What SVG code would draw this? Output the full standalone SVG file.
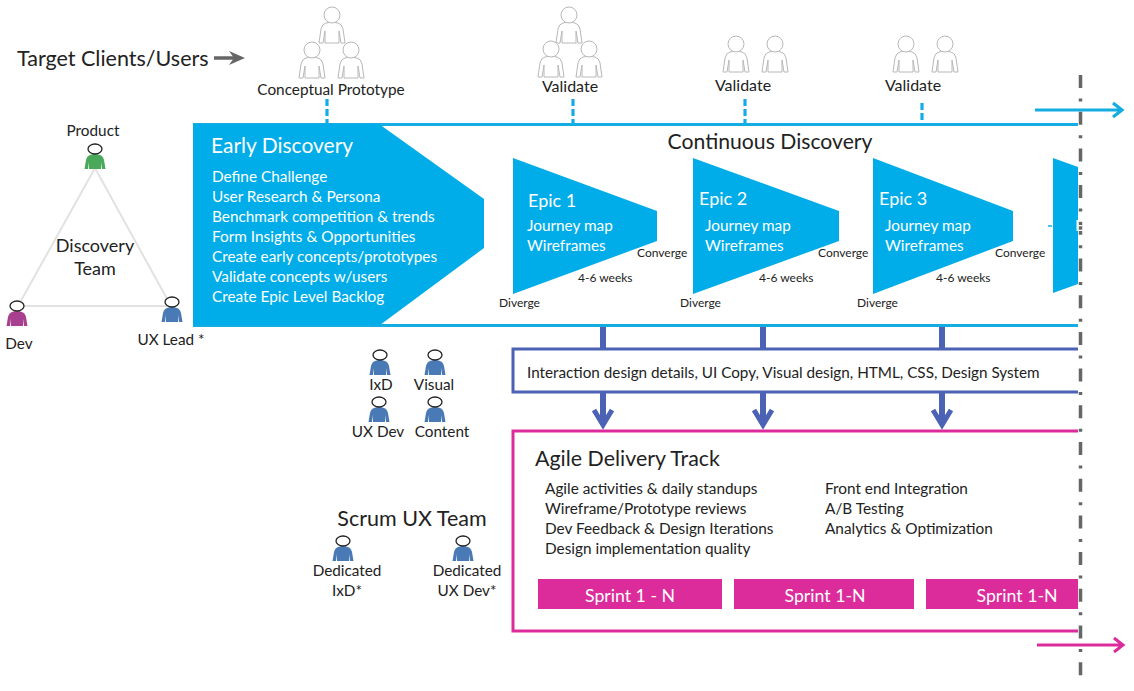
<svg xmlns="http://www.w3.org/2000/svg" width="1134" height="691" viewBox="0 0 1134 691">
<style>
text{font-family:"Lato","Carlito","Open Sans",sans-serif;fill:#222}
.m{text-anchor:middle}
text.w{fill:#fff}
.s14{font-size:15.3px}
.s15{font-size:15.35px}
.s12{font-size:12px}
.cy{fill:#00ade8}
.blue{fill:#4a7ab5}
.green{fill:#4aa85a}
.purple{fill:#a8408f}
.ln-c{stroke:#14ade3;fill:none}
.ln-b{stroke:#4b62b5;fill:none}
.ln-p{stroke:#dc2c9b;fill:none}
</style>
<defs>
<g id="p">
<path d="M-5,6 Q0,4 5,6 Q8,7 9,11 L10.5,20 L7,20 L6,13 L6,20 L-6,20 L-6,13 L-7,20 L-10.5,20 L-9,11 Q-8,7 -5,6Z"/>
<ellipse cx="0" cy="0" rx="7" ry="5" fill="#fff" stroke="#222" stroke-width="1.3"/>
</g>
<g id="g" fill="#fff" stroke="#b8b8b8" stroke-width="1">
<path d="M-6,8 Q0,6 6,8 Q10,9 11,14 L13,28 L9,28 L7,16 L7,28 L-7,28 L-7,16 L-9,28 L-13,28 L-11,14 Q-10,9 -6,8Z"/>
<ellipse cx="0" cy="0" rx="8" ry="8"/>
</g>
</defs>

<g id="connectors">
<path d="M214,58H238" stroke="#666" stroke-width="3.5" fill="none"/>
<path d="M229,51L245,58L229,65L234,58Z" fill="#666"/>
<g class="ln-c" stroke-width="3.2">
<path d="M193,124.5H1078M193,325.5H1078"/>
<path d="M327,99V124M573,99V124M745,99V124M922,103V124" stroke-dasharray="7 3"/>
<path d="M1035,110H1120M1113,103L1122,110L1113,117"/>
</g>
<path d="M1048,226H1052" stroke="#14ade3" stroke-width="1.5"/>
<path d="M95,168L18,306H171Z" stroke="#e2e2e2" stroke-width="2" fill="none"/>
<g class="ln-b">
<path d="M1078,349H513V392H1078" stroke-width="3"/>
<path d="M603,327V349M763,327V349M942,327V349" stroke-width="6"/>
<path d="M603,392V424M763,392V424M942,392V424" stroke-width="6"/>
<path d="M594,410L603,425L612,410M754,410L763,425L772,410M933,410L942,425L951,410" stroke-width="5"/>
</g>
<g class="ln-p" stroke-width="3">
<path d="M1078,431H513V631H1078"/>
<path d="M1037,645H1122M1114,638L1123,645L1114,652"/>
</g>
<path d="M1080.5,75V680" stroke="#666" stroke-width="3.5" stroke-dasharray="13 10.5 3 10.2" fill="none"/>
</g>

<g id="target-label"><text x="17" y="66" font-size="21.5">Target Clients/Users</text></g>

<g id="users-concept">
<use href="#g" x="332" y="15"/><use href="#g" x="312" y="50"/><use href="#g" x="351" y="50"/>
<text class="m s15" x="331" y="95">Conceptual Prototype</text>
</g>
<g id="users-validate-1">
<use href="#g" x="569" y="15"/><use href="#g" x="551" y="49"/><use href="#g" x="589" y="49"/>
<text class="m" font-size="16" x="570" y="92">Validate</text>
</g>
<g id="users-validate-2">
<use href="#g" x="736" y="44"/><use href="#g" x="775" y="44"/>
<text class="m" font-size="16" x="743" y="91">Validate</text>
</g>
<g id="users-validate-3">
<use href="#g" x="906" y="44"/><use href="#g" x="945" y="44"/>
<text class="m" font-size="16" x="913" y="91">Validate</text>
</g>

<g id="discovery-team">
<use href="#p" x="95" y="149" class="green"/>
<use href="#p" x="17" y="306" class="purple"/>
<use href="#p" x="172" y="302" class="blue"/>
<text class="m s14" x="93" y="136">Product</text>
<text class="m" x="95" y="252" font-size="18">Discovery</text>
<text class="m" x="95" y="275" font-size="18">Team</text>
<text class="m s14" x="19" y="349">Dev</text>
<text class="m s14" x="171" y="345">UX Lead *</text>
</g>

<g id="early-discovery">
<path class="cy" d="M193,124H379L484,199V248L380,325H193Z"/>
<text class="w" x="211" y="153" font-size="21">Early Discovery</text>
<text class="w s15" x="212" y="182">Define Challenge</text>
<text class="w s15" x="212" y="202">User Research &amp; Persona</text>
<text class="w s15" x="212" y="222">Benchmark competition &amp; trends</text>
<text class="w s15" x="212" y="242">Form Insights &amp; Opportunities</text>
<text class="w s15" x="212" y="262">Create early concepts/prototypes</text>
<text class="w s15" x="212" y="282">Validate concepts w/users</text>
<text class="w s15" x="212" y="302">Create Epic Level Backlog</text>
</g>

<g id="continuous-label"><text class="m" x="770" y="149" font-size="21.2">Continuous Discovery</text></g>

<g id="epic-1">
<path class="cy" d="M513,158L657,211V241L513,294Z"/>
<text class="w" x="528" y="207" font-size="18">Epic 1</text>
<text class="w s15" x="527" y="231">Journey map</text>
<text class="w s15" x="527" y="251">Wireframes</text>
<text class="s12" x="637" y="257">Converge</text>
<text class="s12" x="578" y="282">4-6 weeks</text>
<text class="s12" x="499" y="307">Diverge</text>
</g>
<g id="epic-2">
<path class="cy" d="M693,158L839,211V241L693,294Z"/>
<text class="w" x="699" y="205" font-size="18">Epic 2</text>
<text class="w s15" x="705" y="231">Journey map</text>
<text class="w s15" x="705" y="251">Wireframes</text>
<text class="s12" x="818" y="257">Converge</text>
<text class="s12" x="759" y="282">4-6 weeks</text>
<text class="s12" x="680" y="307">Diverge</text>
</g>
<g id="epic-3">
<path class="cy" d="M873,158L1013,211V241L873,294Z"/>
<text class="w" x="879" y="205" font-size="18">Epic 3</text>
<text class="w s15" x="885" y="231">Journey map</text>
<text class="w s15" x="885" y="251">Wireframes</text>
<text class="s12" x="995" y="257">Converge</text>
<text class="s12" x="936" y="282">4-6 weeks</text>
<text class="s12" x="857" y="307">Diverge</text>
</g>
<g id="epic-4">
<path class="cy" d="M1053,158L1078,167V284L1053,293Z"/>
<text class="w s15" x="1075" y="231">E</text>
</g>

<g id="ux-team">
<use href="#p" x="380" y="355" class="blue"/>
<use href="#p" x="435" y="355" class="blue"/>
<use href="#p" x="379" y="402" class="blue"/>
<use href="#p" x="435" y="402" class="blue"/>
<text class="m s14" x="381" y="390">IxD</text>
<text class="m s14" x="434" y="390">Visual</text>
<text class="m s14" x="378" y="437">UX Dev</text>
<text class="m s14" x="442" y="437">Content</text>
</g>

<g id="design-details"><text font-size="15.25" x="527" y="378">Interaction design details, UI Copy, Visual design, HTML, CSS, Design System</text></g>

<g id="scrum-team">
<text class="m" x="412" y="526" font-size="21.5">Scrum UX Team</text>
<use href="#p" x="343" y="541" class="blue"/>
<use href="#p" x="463" y="541" class="blue"/>
<text class="m s14" x="347" y="576">Dedicated</text>
<text class="m s14" x="347" y="596">IxD*</text>
<text class="m s14" x="467" y="576">Dedicated</text>
<text class="m s14" x="467" y="596">UX Dev*</text>
</g>

<g id="agile-track">
<text x="535" y="466" font-size="21.4">Agile Delivery Track</text>
<text class="s15" x="545" y="494">Agile activities &amp; daily standups</text>
<text class="s15" x="545" y="514">Wireframe/Prototype reviews</text>
<text class="s15" x="545" y="534">Dev Feedback &amp; Design Iterations</text>
<text class="s15" x="545" y="554">Design implementation quality</text>
<text class="s15" x="825" y="494">Front end Integration</text>
<text class="s15" x="825" y="514">A/B Testing</text>
<text class="s15" x="825" y="534">Analytics &amp; Optimization</text>
</g>
<g id="sprint-1"><rect x="538" y="579" width="184" height="30" fill="#dc2c9b"/><text class="m w" x="630" y="602" font-size="17.7">Sprint 1 - N</text></g>
<g id="sprint-2"><rect x="734" y="579" width="180" height="30" fill="#dc2c9b"/><text class="m w" x="825" y="602" font-size="17.7">Sprint 1-N</text></g>
<g id="sprint-3"><rect x="926" y="579" width="152" height="30" fill="#dc2c9b"/><text class="m w" x="1017" y="602" font-size="17.7">Sprint 1-N</text></g>
</svg>
